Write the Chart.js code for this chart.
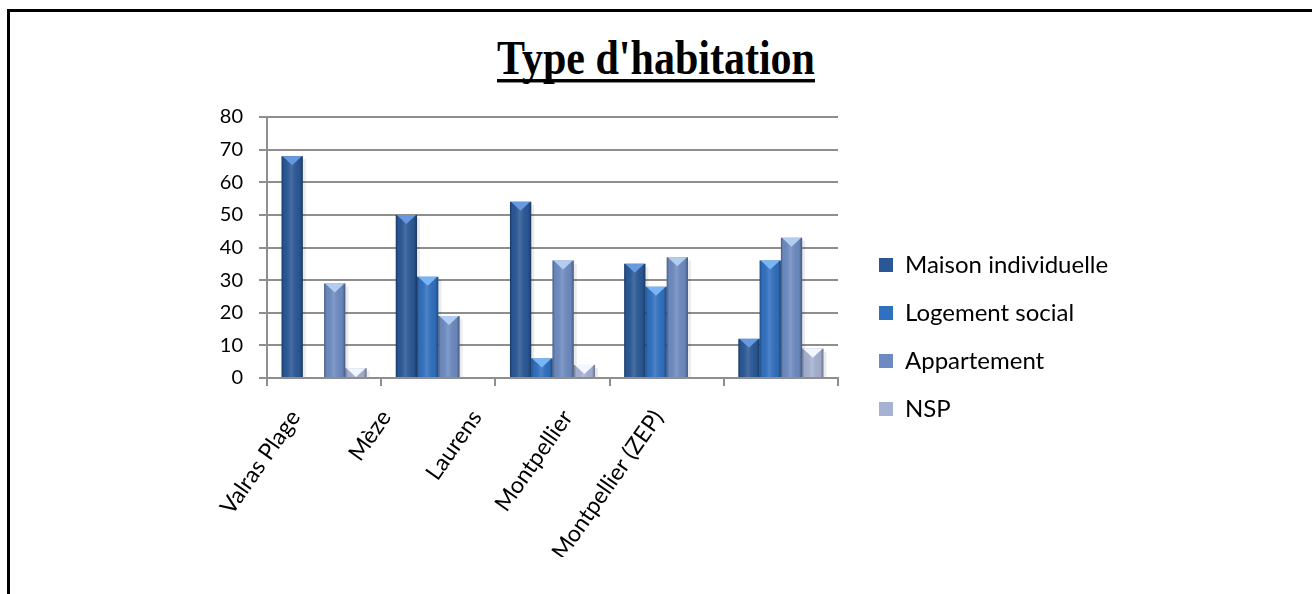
<!DOCTYPE html>
<html>
<head>
<meta charset="utf-8">
<script src="https://cdn.jsdelivr.net/npm/chart.js@4.4.0/dist/chart.umd.min.js"></script>
<style>
html, body { margin: 0; padding: 0; background: #fff; }
#wrap { position: relative; width: 1312px; height: 594px; overflow: hidden; }
#frame { position: absolute; left: 7px; top: 9px; right: -20px; bottom: -20px; border-top: 3px solid #000; border-left: 3px solid #000; }
#title { position: absolute; left: 0; top: 38px; width: 1312px; }
#title span { display: block; width: max-content; margin: 0 auto; font: bold 42px "Liberation Serif"; line-height: 36px; border-bottom: 3.5px solid #000; transform: scaleY(1.14); transform-origin: 50% 0; }
canvas { position: absolute; left: 0; top: 0; }
</style>
</head>
<body>
<div id="wrap">
  <div id="frame"></div>
  <div id="title"><span>Type d'habitation</span></div>
  <canvas id="chart" width="1312" height="594"></canvas>
</div>
<script>
// data
const categories = ['Valras Plage', 'Mèze', 'Laurens', 'Montpellier', 'Montpellier (ZEP)'];
const seriesNames = ['Maison individuelle', 'Logement social', 'Appartement', 'NSP'];
const maisonIndividuelle = [68, 50, 54, 35, 12];
const logementSocial = [0, 31, 6, 28, 36];
const appartement = [29, 19, 36, 37, 43];
const nsp = [3, 0, 4, 0, 9];
const yMin = 0, yMax = 80, yStep = 10;

const baseColors = ['#2a5896', '#3070c0', '#6d8bc2', '#a6b2d2'];
const topColors = ['#6699de', '#78b5f4', '#b3cdf0', '#f2f6ff'];

const legendSize = 24;
const legendPad = 24;
const legendBox = 14;
const legendShift = 17;   // room between plot and legend

// work out the legend width so the plot keeps its place
const mctx = document.createElement('canvas').getContext('2d');
mctx.font = legendSize + 'px Lato';
const maxText = Math.max.apply(null, seriesNames.map(function (s) { return mctx.measureText(s).width; }));
const legendWidth = legendPad + legendBox + legendSize / 2 + maxText - 6;
const padRight = Math.max(0, 1312 - 837 - legendWidth - legendShift);

// bevel, shading and top facet on each bar
const bevelPlugin = {
    id: 'bevel',
    afterLayout: function (chart) {
        chart.legend.left += legendShift;
        chart.legend.right += legendShift;
    },
    beforeDatasetsDraw: function (chart) {
        const ctx = chart.ctx;
        chart.data.datasets.forEach(function (ds, i) {
            chart.getDatasetMeta(i).data.forEach(function (bar) {
                const p = bar.getProps(['x', 'y', 'base', 'width'], true);
                const h = p.base - p.y;
                if (h < 1) return;
                ctx.save();
                ctx.fillStyle = 'rgba(0,0,0,0.08)';
                ctx.fillRect(p.x + p.width / 2, p.y + 3, 3, h - 3);
                ctx.restore();
            });
        });
    },
    afterDatasetsDraw: function (chart) {
        const ctx = chart.ctx;
        chart.data.datasets.forEach(function (ds, i) {
            chart.getDatasetMeta(i).data.forEach(function (bar) {
                const p = bar.getProps(['x', 'y', 'base', 'width'], true);
                const h = p.base - p.y;
                if (h < 1) return;
                const l = p.x - p.width / 2, r = p.x + p.width / 2;
                ctx.save();
                const g = ctx.createLinearGradient(l, 0, r, 0);
                g.addColorStop(0, 'rgba(0,0,0,0.32)');
                g.addColorStop(0.12, 'rgba(0,0,0,0.02)');
                g.addColorStop(0.45, 'rgba(255,255,255,0.14)');
                g.addColorStop(0.85, 'rgba(0,0,0,0.04)');
                g.addColorStop(1, 'rgba(0,0,0,0.36)');
                ctx.fillStyle = g;
                ctx.fillRect(l, p.y, p.width, h);
                const th = Math.min(9, h);
                ctx.beginPath();
                ctx.moveTo(l + 1, p.y);
                ctx.lineTo(r - 1, p.y);
                ctx.lineTo(p.x, p.y + th);
                ctx.closePath();
                ctx.fillStyle = ds.topColor;
                ctx.fill();
                ctx.restore();
            });
        });
    }
};

const seriesData = [maisonIndividuelle, logementSocial, appartement, nsp];

new Chart(document.getElementById('chart'), {
    type: 'bar',
    data: {
        labels: categories,
        datasets: seriesNames.map(function (name, i) {
            return {
                label: name,
                data: seriesData[i],
                backgroundColor: baseColors[i],
                borderWidth: 0,
                topColor: topColors[i],
                categoryPercentage: 0.745,
                barPercentage: 1
            };
        })
    },
    options: {
        responsive: false,
        animation: false,
        layout: { padding: { left: 0, top: 117, right: padRight, bottom: 37 } },
        plugins: {
            title: { display: false },
            tooltip: { enabled: false },
            legend: {
                position: 'right',
                labels: {
                    boxWidth: legendBox,
                    boxHeight: legendBox,
                    padding: legendPad,
                    color: '#000',
                    font: { family: 'Lato', size: legendSize }
                }
            }
        },
        scales: {
            x: {
                grid: { display: true, drawOnChartArea: false, drawTicks: true, tickLength: 8, color: '#8e8e8e', lineWidth: 2, offset: true },
                border: { display: true, color: '#8e8e8e', width: 2 },
                ticks: { display: false },
                afterFit: function (s) { s.height = 9; }
            },
            // category names, spaced the way the picture has them
            xl: {
                type: 'linear',
                position: 'bottom',
                offset: false,
                min: -0.31,
                max: 5.98,
                grid: { display: false },
                border: { display: false },
                afterBuildTicks: function (s) {
                    s.ticks = categories.map(function (c, i) { return { value: i }; });
                },
                ticks: {
                    autoSkip: false,
                    color: '#000',
                    font: { family: 'Lato', size: 23 },
                    minRotation: 55,
                    maxRotation: 55,
                    padding: 10,
                    callback: function (v) { return categories[v]; }
                },
                afterFit: function (s) { s.height = 170; }
            },
            y: {
                min: yMin,
                max: yMax,
                ticks: { stepSize: yStep, color: '#000', font: { family: 'Lato', size: 20 }, padding: 16 },
                grid: { color: '#8e8e8e', lineWidth: 2, tickLength: 8 },
                border: { display: true, color: '#8e8e8e', width: 2 },
                afterFit: function (s) { s.width = 267; }
            }
        }
    },
    plugins: [bevelPlugin]
});
</script>
</body>
</html>
